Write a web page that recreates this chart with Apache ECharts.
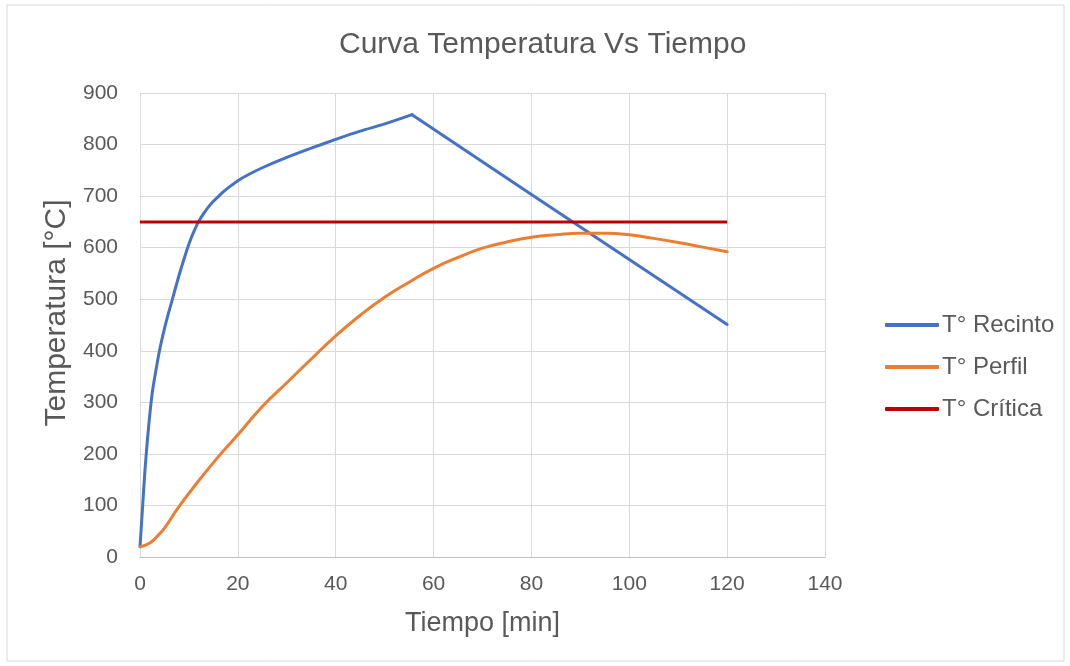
<!DOCTYPE html>
<html>
<head>
<meta charset="utf-8">
<title>Curva Temperatura Vs Tiempo</title>
<script src="https://cdn.jsdelivr.net/npm/echarts@6/dist/echarts.min.js"></script>
<style>
  html, body { margin: 0; padding: 0; background: #fff; }
  #chart { width: 1070px; height: 666px; }
</style>
</head>
<body>
<div id="chart"></div>
<script>
// T° Recinto (tiempo [min], temperatura [°C]) - rises to a peak, then falls linearly
const tRecinto = [0, 0.5, 1, 1.5, 2, 2.5, 3, 4, 5, 6, 7, 8, 9, 10, 11, 12, 13, 14, 15, 16, 17, 18, 19, 20, 22, 25, 30, 35, 40, 45, 50, 55.6, 80, 100, 120];
const tempRecinto = [20, 93, 166, 225, 276, 318, 348, 401, 443, 479, 513, 547, 578, 607, 631, 651, 666, 679, 690, 699, 708, 716, 723, 730, 741, 755, 775, 793, 810, 826, 840, 858, 703, 577, 451];

// T° Perfil
const tPerfil = [0, 2, 4, 5, 8, 12, 16.5, 20, 25, 30, 35, 40, 45, 50, 55, 60, 65, 70, 75, 80, 85, 90, 95, 100, 105, 110, 115, 120];
const tempPerfil = [20, 27, 45, 56, 98, 148, 200, 237, 292, 338, 384, 429, 469, 504, 533, 560, 581, 599, 611, 620, 625, 628, 628, 625, 618, 610, 601, 592];

// T° Crítica
const tCritica = [0, 120];
const tempCritica = [650, 650];

const xTicks = { min: 0, max: 140, interval: 20 };
const yTicks = { min: 0, max: 900, interval: 100 };

const TEXT = "#595959";
const GRID = "#d9d9d9";
const FONT = "Liberation Sans, Arial, sans-serif";
const BLUE = "#4472C4";

const pairs = (xs, ys) => xs.map((x, i) => [x, ys[i]]);

// the heating branch is a smooth curve, the cooling branch a straight line
const recinto = pairs(tRecinto, tempRecinto);
const peak = tempRecinto.indexOf(Math.max(...tempRecinto));
const recintoSube = recinto.slice(0, peak + 1);
const recintoBaja = recinto.slice(peak);

const chart = echarts.init(document.getElementById("chart"));
chart.setOption({
  animation: false,
  textStyle: { fontFamily: FONT, color: TEXT },
  title: {
    text: "Curva Temperatura Vs Tiempo",
    left: 339,
    top: 30,
    padding: 0,
    textStyle: { fontSize: 30, fontWeight: "normal", color: TEXT, fontFamily: FONT },
  },
  graphic: [
    {
      type: "rect",
      shape: { x: 7, y: 5, width: 1057, height: 656 },
      style: { fill: "none", stroke: GRID, lineWidth: 1 },
      silent: true,
    },
  ],
  legend: {
    orient: "vertical",
    left: 885,
    top: 313,
    padding: 0,
    itemWidth: 54,
    itemHeight: 4,
    itemGap: 18,
    icon: "roundRect",
    textStyle: { fontSize: 24, color: TEXT, fontFamily: FONT, lineHeight: 24, padding: [0, 0, 0, -2] },
    data: ["T° Recinto", "T° Perfil", "T° Crítica"],
  },
  grid: { left: 140, right: 245, top: 93, bottom: 109, containLabel: false },
  xAxis: {
    type: "value",
    min: xTicks.min,
    max: xTicks.max,
    interval: xTicks.interval,
    name: "Tiempo [min]",
    nameLocation: "middle",
    nameGap: 53,
    nameTextStyle: { fontSize: 27, color: TEXT, fontFamily: FONT },
    axisLine: { show: true, lineStyle: { color: "#bfbfbf", width: 1 } },
    axisTick: { show: false },
    axisLabel: { fontSize: 21, color: TEXT, margin: 17 },
    splitLine: { show: true, lineStyle: { color: GRID, width: 1 } },
  },
  yAxis: {
    type: "value",
    min: yTicks.min,
    max: yTicks.max,
    interval: yTicks.interval,
    name: "Temperatura [°C]",
    nameLocation: "middle",
    nameGap: 60,
    nameTextStyle: { fontSize: 30, color: TEXT, fontFamily: FONT, padding: [0, 0, 0, 24] },
    axisLine: { show: false },
    axisTick: { show: false },
    axisLabel: { fontSize: 21, color: TEXT, margin: 22 },
    splitLine: { show: true, lineStyle: { color: GRID, width: 1 } },
  },
  series: [
    {
      name: "T° Recinto",
      type: "line",
      data: recintoSube,
      showSymbol: false,
      smooth: 0.3,
      color: BLUE,
      lineStyle: { width: 3, color: BLUE, cap: "round", join: "round" },
    },
    {
      name: "T° Recinto",
      type: "line",
      data: recintoBaja,
      showSymbol: false,
      smooth: false,
      color: BLUE,
      lineStyle: { width: 3, color: BLUE, cap: "round", join: "round" },
    },
    {
      name: "T° Perfil",
      type: "line",
      data: pairs(tPerfil, tempPerfil),
      showSymbol: false,
      smooth: 0.5,
      color: "#ED7D31",
      lineStyle: { width: 3, color: "#ED7D31", cap: "round" },
    },
    {
      name: "T° Crítica",
      type: "line",
      data: pairs(tCritica, tempCritica),
      showSymbol: false,
      color: "#C00000",
      lineStyle: { width: 3, color: "#C00000" },
    },
  ],
});
</script>
</body>
</html>
